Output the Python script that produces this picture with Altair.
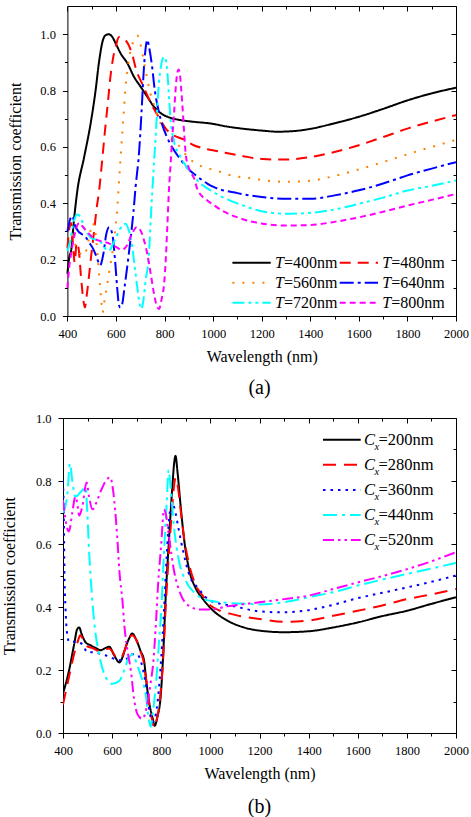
import altair as alt
import pandas as pd

FONT = "'Liberation Serif', 'Times New Roman', Times, serif"

# ---------------- (a) transmission for several periods T ----------------
t_periods = [400, 480, 560, 640, 720, 800]
t_colors = ["#000000", "#FF0000", "#FF8000", "#0000FF", "#00FFFF", "#FF00FF"]
t_dashes = [[1, 0], [11, 7], [2, 8], [14, 4, 3, 4], [12, 4, 3, 4, 3, 4], [6, 4]]

wl_t400 = [400, 408, 415, 427, 441, 468, 496, 516, 530, 545, 558, 571, 585, 600, 619, 647, 674, 702, 729, 757,
           784, 825, 866, 921, 990, 1059, 1100, 1150, 1200, 1265, 1330, 1400, 1500, 1600, 1700, 1800, 1900, 2000]
tr_t400 = [0.15, 0.21, 0.23, 0.34, 0.445, 0.56, 0.685, 0.80, 0.90, 0.975, 0.997, 1.0, 0.99, 0.965, 0.932, 0.897,
           0.849, 0.813, 0.778, 0.742, 0.72, 0.703, 0.695, 0.689, 0.683, 0.672, 0.667, 0.662, 0.658, 0.654, 0.656,
           0.664, 0.684, 0.707, 0.735, 0.765, 0.79, 0.81]

wl_t480 = [400, 408, 415, 423, 430, 438, 446, 456, 465, 472, 479, 490, 500, 510, 520, 530, 543, 555, 567, 576, 587,
           600, 612, 630, 650, 668, 681, 710, 750, 780, 805, 840, 875, 920, 960, 1024, 1120, 1203, 1290, 1400, 1500,
           1600, 1700, 1800, 1900, 2000]
tr_t480 = [0.24, 0.31, 0.33, 0.25, 0.19, 0.26, 0.24, 0.14, 0.06, 0.03, 0.07, 0.15, 0.23, 0.30, 0.38, 0.44, 0.55,
           0.66, 0.76, 0.84, 0.91, 0.96, 0.99, 0.985, 0.965, 0.925, 0.88, 0.82, 0.745, 0.70, 0.665, 0.64, 0.628, 0.606,
           0.595, 0.584, 0.568, 0.557, 0.555, 0.564, 0.582, 0.606, 0.635, 0.665, 0.69, 0.713]

wl_t560 = [400, 412, 425, 440, 455, 468, 480, 492, 503, 513, 522, 532, 540, 545, 552, 571, 592, 606, 612, 619, 626,
           633, 640, 647, 654, 668, 688, 702, 720, 736, 760, 784, 812, 853, 900, 962, 1011, 1059, 1114, 1168, 1216,
           1300, 1400, 1500, 1600, 1700, 1800, 1900, 2000]
tr_t560 = [0.32, 0.31, 0.27, 0.24, 0.22, 0.215, 0.24, 0.29, 0.33, 0.31, 0.24, 0.13, 0.05, 0.012, 0.05, 0.15, 0.27,
           0.39, 0.47, 0.56, 0.65, 0.735, 0.82, 0.87, 0.915, 0.965, 0.995, 0.96, 0.88, 0.81, 0.74, 0.683, 0.643, 0.61,
           0.56, 0.528, 0.517, 0.502, 0.493, 0.487, 0.481, 0.476, 0.48, 0.497, 0.52, 0.546, 0.574, 0.6, 0.625]

wl_t640 = [400, 410, 420, 432, 445, 460, 475, 490, 505, 520, 535, 548, 560, 572, 585, 596, 605, 612, 618, 625, 635,
           647, 661, 672, 681, 695, 705, 715, 722, 729, 736, 748, 760, 775, 790, 810, 839, 866, 900, 935, 976, 1004,
           1100, 1200, 1300, 1400, 1500, 1600, 1700, 1800, 1900, 2000]
tr_t640 = [0.30, 0.34, 0.355, 0.32, 0.30, 0.29, 0.28, 0.26, 0.24, 0.21, 0.18, 0.22, 0.29, 0.315, 0.29, 0.20, 0.10,
           0.04, 0.03, 0.04, 0.10, 0.18, 0.28, 0.37, 0.46, 0.58, 0.72, 0.88, 0.95, 0.98, 0.955, 0.89, 0.80, 0.73,
           0.68, 0.635, 0.588, 0.555, 0.52, 0.495, 0.47, 0.457, 0.436, 0.422, 0.416, 0.416, 0.428, 0.446, 0.47,
           0.499, 0.523, 0.546]

wl_t720 = [400, 410, 425, 440, 455, 470, 485, 500, 520, 540, 555, 571, 590, 606, 625, 640, 654, 665, 674, 688, 698,
           705, 712, 722, 736, 743, 750, 757, 764, 770, 777, 785, 798, 806, 812, 818, 825, 839, 866, 894, 949, 1000,
           1031, 1114, 1200, 1300, 1400, 1500, 1600, 1700, 1800, 1900, 2000]
tr_t720 = [0.23, 0.26, 0.33, 0.36, 0.35, 0.31, 0.29, 0.275, 0.27, 0.26, 0.24, 0.232, 0.26, 0.29, 0.32, 0.327, 0.30,
           0.26, 0.196, 0.10, 0.04, 0.025, 0.05, 0.125, 0.22, 0.34, 0.45, 0.55, 0.645, 0.74, 0.83, 0.885, 0.92, 0.905,
           0.86, 0.78, 0.695, 0.62, 0.564, 0.525, 0.47, 0.44, 0.425, 0.395, 0.372, 0.363, 0.366, 0.378, 0.398, 0.42,
           0.445, 0.462, 0.481]

wl_t800 = [400, 407, 415, 430, 448, 460, 480, 510, 540, 565, 600, 625, 645, 665, 685, 700, 715, 729, 743, 757, 768,
           777, 788, 798, 805, 812, 818, 825, 832, 839, 846, 853, 858, 863, 868, 873, 880, 887, 898, 908, 921, 935,
           976, 1000, 1045, 1114, 1200, 1300, 1400, 1500, 1600, 1700, 1800, 1900, 2000]
tr_t800 = [0.10, 0.17, 0.22, 0.29, 0.33, 0.32, 0.30, 0.275, 0.265, 0.26, 0.245, 0.235, 0.25, 0.29, 0.315, 0.305,
           0.27, 0.22, 0.15, 0.077, 0.035, 0.025, 0.06, 0.113, 0.2, 0.33, 0.445, 0.54, 0.635, 0.718, 0.81, 0.865,
           0.875, 0.86, 0.81, 0.754, 0.659, 0.576, 0.53, 0.51, 0.49, 0.45, 0.41, 0.395, 0.37, 0.346, 0.328, 0.321,
           0.323, 0.334, 0.35, 0.37, 0.392, 0.412, 0.433]

# ---------------- (b) transmission for several widths Cx ----------------
c_widths = [200, 280, 360, 440, 520]
c_colors = ["#000000", "#FF0000", "#0000FF", "#00FFFF", "#FF00FF"]
c_dashes = [[1, 0], [13, 8], [2.5, 5], [14, 5, 3, 5], [11, 4, 2.5, 4, 2.5, 4]]

wl_c200 = [400, 425, 445, 458, 466, 476, 492, 513, 533, 553, 574, 588, 608, 630, 642, 655, 669, 682, 696, 716, 730,
           737, 750, 764, 773, 784, 798, 808, 818, 832, 845, 853, 858, 866, 879, 893, 913, 940, 970, 1000, 1069, 1137,
           1200, 1300, 1400, 1500, 1600, 1700, 1800, 1900, 2000]
tr_c200 = [0.125, 0.2, 0.28, 0.33, 0.335, 0.314, 0.288, 0.278, 0.27, 0.263, 0.27, 0.274, 0.247, 0.224, 0.24, 0.272,
           0.30, 0.316, 0.30, 0.26, 0.23, 0.18, 0.10, 0.05, 0.023, 0.05, 0.12, 0.25, 0.43, 0.62, 0.78, 0.86, 0.88,
           0.83, 0.72, 0.615, 0.52, 0.46, 0.425, 0.397, 0.357, 0.335, 0.325, 0.32, 0.323, 0.335, 0.351, 0.371, 0.388,
           0.41, 0.431]

wl_c280 = [400, 425, 445, 460, 470, 480, 499, 520, 547, 565, 587, 600, 615, 635, 650, 665, 682, 698, 716, 730, 740,
           752, 763, 771, 781, 795, 808, 818, 832, 845, 853, 858, 866, 880, 895, 915, 940, 970, 1000, 1100, 1200, 1300,
           1400, 1500, 1600, 1700, 1800, 1900, 2000]
tr_c280 = [0.09, 0.18, 0.25, 0.29, 0.31, 0.30, 0.275, 0.27, 0.26, 0.262, 0.268, 0.26, 0.242, 0.238, 0.26, 0.295,
           0.31, 0.295, 0.258, 0.22, 0.16, 0.09, 0.04, 0.018, 0.04, 0.11, 0.24, 0.40, 0.58, 0.72, 0.79, 0.81, 0.79,
           0.70, 0.61, 0.53, 0.47, 0.435, 0.405, 0.375, 0.362, 0.353, 0.357, 0.372, 0.388, 0.405, 0.425, 0.44, 0.457]

wl_c360 = [400, 403, 406, 410, 416, 425, 440, 460, 480, 500, 530, 555, 580, 610, 650, 680, 700, 720, 740, 752, 764,
           775, 788, 800, 812, 822, 832, 845, 855, 870, 891, 915, 950, 1000, 1100, 1200, 1300, 1400, 1500, 1600, 1700,
           1800, 1900, 2000]
tr_c360 = [0.80, 0.70, 0.50, 0.40, 0.32, 0.29, 0.29, 0.29, 0.28, 0.256, 0.256, 0.25, 0.245, 0.235, 0.23, 0.25, 0.25,
           0.22, 0.14, 0.07, 0.035, 0.05, 0.12, 0.24, 0.40, 0.56, 0.68, 0.73, 0.71, 0.65, 0.57, 0.50, 0.46, 0.42,
           0.402, 0.386, 0.383, 0.39, 0.407, 0.428, 0.445, 0.462, 0.48, 0.5]

wl_c440 = [400, 410, 418, 428, 438, 450, 472, 492, 499, 506, 513, 526, 547, 574, 601, 630, 650, 668, 685, 700, 716,
           737, 750, 757, 765, 778, 790, 800, 811, 822, 830, 838, 852, 872, 899, 933, 974, 1000, 1069, 1150, 1200,
           1300, 1400, 1500, 1600, 1700, 1800, 1900, 2000]
tr_c440 = [0.70, 0.72, 0.76, 0.855, 0.80, 0.75, 0.765, 0.78, 0.70, 0.58, 0.49, 0.36, 0.25, 0.177, 0.156, 0.166, 0.2,
           0.24, 0.25, 0.22, 0.185, 0.12, 0.04, 0.02, 0.06, 0.15, 0.28, 0.39, 0.57, 0.73, 0.835, 0.78, 0.653, 0.547,
           0.484, 0.447, 0.425, 0.42, 0.413, 0.41, 0.408, 0.415, 0.431, 0.447, 0.468, 0.487, 0.505, 0.522, 0.54]

wl_c520 = [400, 406, 414, 424, 438, 450, 458, 466, 479, 496, 506, 520, 540, 555, 574, 592, 604, 612, 621, 630, 642,
           650, 665, 676, 689, 703, 723, 744, 757, 767, 777, 787, 800, 811, 820, 832, 852, 879, 920, 960, 1000, 1069,
           1200, 1300, 1400, 1500, 1600, 1700, 1800, 1900, 2000]
tr_c520 = [0.74, 0.70, 0.66, 0.64, 0.70, 0.75, 0.73, 0.69, 0.72, 0.795, 0.75, 0.71, 0.74, 0.77, 0.80, 0.812, 0.77,
           0.71, 0.62, 0.51, 0.42, 0.34, 0.25, 0.2, 0.11, 0.06, 0.045, 0.095, 0.16, 0.22, 0.33, 0.47, 0.6, 0.71, 0.69,
           0.62, 0.515, 0.44, 0.40, 0.392, 0.392, 0.402, 0.415, 0.425, 0.436, 0.457, 0.478, 0.498, 0.52, 0.545, 0.574]

X_MAJOR = [400, 600, 800, 1000, 1200, 1400, 1600, 1800, 2000]
X_MINOR = [500, 700, 900, 1100, 1300, 1500, 1700, 1900]
Y_MAJOR = [0.0, 0.2, 0.4, 0.6, 0.8, 1.0]
Y_MINOR = [0.1, 0.3, 0.5, 0.7, 0.9]

PANEL_W = 393        # both panels share the right edge; (a) starts a little further in
ONE = pd.DataFrame({"k": [0]})


def long_frame(names, wls, trs):
    parts = [pd.DataFrame({"series": n, "wl": w, "tr": t}) for n, w, t in zip(names, wls, trs)]
    return pd.concat(parts, ignore_index=True)


def tick_axis(orient, values, size, offset=0):
    return alt.Axis(orient=orient, values=values, tickSize=size, offset=offset, labels=False,
                    domain=False, grid=False, tickColor="black", tickWidth=1, title=None)


def frame_axis(orient, offset=0):
    return alt.Axis(orient=orient, ticks=False, labels=False, domain=True, domainColor="black",
                    domainWidth=1, grid=False, title=None, offset=offset)


def text_mark(txt, x, y, size=16, italic=False):
    return alt.Chart(ONE).mark_text(
        text=txt, font=FONT, fontSize=size, fontStyle="italic" if italic else "normal",
        align="left", baseline="middle", color="black"
    ).encode(x=alt.value(x), y=alt.value(y))


def key_line(color, dash, x0, x1, y):
    return alt.Chart(ONE).mark_rule(color=color, strokeDash=dash, strokeWidth=2).encode(
        x=alt.value(x0), x2=alt.value(x1), y=alt.value(y))


def panel(df, names, colors, dashes, ymax, height, inset, key_layers, ytitle_pad, caption, cap_offset):
    xs = alt.Scale(domain=[400, 2000], range=[inset, PANEL_W], nice=False, zero=False)
    ys = alt.Scale(domain=[0, ymax], nice=False, zero=False)
    bottom = alt.Axis(orient="bottom", values=X_MAJOR, format="d", tickSize=5, labelPadding=6,
                      labelFlush=False, labelOverlap=False, labelFont=FONT, labelFontSize=12.5,
                      labelColor="black", title="Wavelength (nm)", titleFont=FONT, titleFontSize=16,
                      titleFontWeight="normal", titleColor="black", titlePadding=9,
                      domain=True, domainColor="black", domainWidth=1,
                      grid=False, tickColor="black", tickWidth=1)
    left = alt.Axis(orient="left", values=Y_MAJOR, format=".1f", tickSize=5, labelPadding=7, offset=-inset,
                    labelOverlap=False, labelFont=FONT, labelFontSize=12.5, labelColor="black",
                    title="Transmission coefficient", titleFont=FONT, titleFontSize=16,
                    titleFontWeight="normal", titleColor="black", titlePadding=ytitle_pad,
                    domain=True, domainColor="black", domainWidth=1,
                    grid=False, tickColor="black", tickWidth=1)
    curves = alt.Chart(df).mark_line(strokeWidth=2, interpolate="monotone", clip=True).encode(
        x=alt.X("wl:Q", scale=xs, axis=bottom),
        y=alt.Y("tr:Q", scale=ys, axis=left),
        color=alt.Color("series:N", scale=alt.Scale(domain=names, range=colors), legend=None),
        strokeDash=alt.StrokeDash("series:N", scale=alt.Scale(domain=names, range=dashes), legend=None),
    )

    def ghost(xa, ya):
        return alt.Chart(df).mark_point(opacity=0).encode(
            x=alt.X("wl:Q", scale=xs, axis=xa), y=alt.Y("tr:Q", scale=ys, axis=ya))

    minor_out = ghost(tick_axis("bottom", X_MINOR, 3), tick_axis("left", Y_MINOR, 3, -inset))
    major_in = ghost(tick_axis("top", X_MAJOR, 5, -5), tick_axis("right", Y_MAJOR, 5, -5))
    minor_in = ghost(tick_axis("top", X_MINOR, 3, -3), tick_axis("right", Y_MINOR, 3, -3))
    edges = ghost(frame_axis("top"), frame_axis("right"))
    # keeps the left margin of the figure at a fixed width
    margin = alt.Chart(ONE).mark_rule(color="white", strokeWidth=1).encode(
        x=alt.value(-61.8), y=alt.value(0), y2=alt.value(1))

    return alt.layer(margin, curves, minor_out, major_in, minor_in, edges, *key_layers).resolve_axis(
        x="independent", y="independent"
    ).properties(
        width=PANEL_W, height=height,
        title=alt.TitleParams(text=caption, orient="bottom", anchor="middle", font=FONT, fontSize=20,
                              fontWeight="normal", color="black", offset=cap_offset, baseline="top"),
    )


# ---- panel (a) ----
t_names = [f"T={p}nm" for p in t_periods]
df_a = long_frame(t_names,
                  [wl_t400, wl_t480, wl_t560, wl_t640, wl_t720, wl_t800],
                  [tr_t400, tr_t480, tr_t560, tr_t640, tr_t720, tr_t800])
keys_a = []
for i, (p, c, d) in enumerate(zip(t_periods, t_colors, t_dashes)):
    row, col = divmod(i, 2)
    ky = 256.7 + row * 20
    kx = 169.4 + col * 107.3
    keys_a.append(key_line(c, d, kx, kx + 38.3, ky))
    keys_a.append(text_mark("T", kx + 42.6, ky, italic=True))
    keys_a.append(text_mark(f"={p}nm", kx + 51.6, ky))

panel_a = panel(df_a, t_names, t_colors, t_dashes, 1.1, 310, 4.4, keys_a, 16, "(a)", 13)

# ---- panel (b) ----
c_names = [f"Cx={w}nm" for w in c_widths]
df_b = long_frame(c_names,
                  [wl_c200, wl_c280, wl_c360, wl_c440, wl_c520],
                  [tr_c200, tr_c280, tr_c360, tr_c440, tr_c520])
keys_b = []
for i, (w, c, d) in enumerate(zip(c_widths, c_colors, c_dashes)):
    ky = 21.7 + i * 25.1
    keys_b.append(key_line(c, d, 260, 297.7, ky))
    keys_b.append(text_mark("C", 301, ky, size=16.5, italic=True))
    keys_b.append(text_mark("x", 311.5, ky + 7, size=10.5, italic=True))
    keys_b.append(text_mark(f"={w}nm", 315.5, ky, size=16.5))

panel_b = panel(df_b, c_names, c_colors, c_dashes, 1.0, 315, 0, keys_b, 18, "(b)", 15)

chart = alt.vconcat(panel_a, panel_b, spacing=14).resolve_scale(
    color="independent", strokeDash="independent"
).properties(
    padding={"left": 0, "top": 5, "right": 0, "bottom": 0},
    background="white",
).configure_view(strokeOpacity=0)

chart.save("out.html", embed_options={"renderer": "svg", "actions": False})
